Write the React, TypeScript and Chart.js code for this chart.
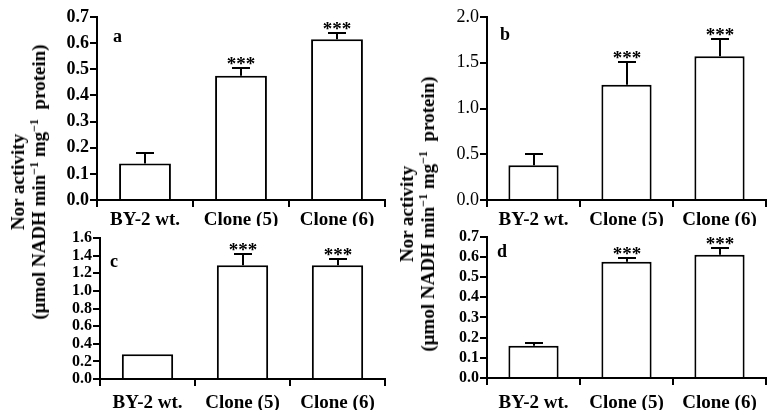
import React, { useEffect, useRef } from "react";
import { Chart, registerables } from "chart.js";

Chart.register(...registerables);

// ---------- data ----------
const categories = ["BY-2 wt.", "Clone (5)", "Clone (6)"];

const valuesA = [0.14, 0.475, 0.615];
const errorsA: (number | null)[] = [0.18, 0.505, 0.64];
const starsA = ["", "***", "***"];

const valuesB = [0.38, 1.26, 1.57];
const errorsB: (number | null)[] = [0.5, 1.51, 1.76];
const starsB = ["", "***", "***"];

const valuesC = [0.28, 1.29, 1.29];
const errorsC: (number | null)[] = [null, 1.415, 1.36];
const starsC = ["", "***", "***"];

const valuesD = [0.16, 0.575, 0.61];
const errorsD: (number | null)[] = [0.172, 0.593, 0.642];
const starsD = ["", "***", "***"];

const yMaxA = 0.7;
const yStepA = 0.1;
const yMaxB = 2.0;
const yStepB = 0.5;
const yMaxC = 1.6;
const yStepC = 0.2;
const yMaxD = 0.7;
const yStepD = 0.1;

const yTitleLine1 = "Nor activity";

const SERIF = '"Liberation Serif", "Times New Roman", serif';

type PanelCfg = {
  letter: string;
  values: number[];
  errors: (number | null)[];
  stars: string[];
  yMax: number;
  yStep: number;
  left: number;
  top: number;
  width: number;
  height: number;
  yAxisWidth: number;
  xAxisHeight: number;
  padTop: number;
  padRight: number;
  yFontSize: number;
  yFontWeight: string;
  xPad: number;
  letterDx: number;
  letterDy: number;
};

function Panel({ cfg }: { cfg: PanelCfg }) {
  const ref = useRef<HTMLCanvasElement>(null);
  useEffect(() => {
    if (!ref.current) return;
    const errPlugin = {
      id: "errbars",
      afterDatasetsDraw(chart: any) {
        const ctx = chart.ctx;
        const meta = chart.getDatasetMeta(0);
        const ys = chart.scales.y;
        ctx.save();
        ctx.strokeStyle = "#000";
        ctx.fillStyle = "#000";
        ctx.lineWidth = 2;
        meta.data.forEach((el: any, i: number) => {
          const x = Math.round(el.x);
          let topY = ys.getPixelForValue(cfg.values[i]);
          const e = cfg.errors[i];
          if (e != null) {
            const yt = Math.round(ys.getPixelForValue(e));
            ctx.beginPath();
            ctx.moveTo(x, topY);
            ctx.lineTo(x, yt);
            ctx.moveTo(x - 9, yt);
            ctx.lineTo(x + 9, yt);
            ctx.stroke();
            topY = yt;
          }
          if (cfg.stars[i]) {
            ctx.font = `bold 19px ${SERIF}`;
            ctx.textAlign = "center";
            ctx.textBaseline = "alphabetic";
            ctx.fillText(cfg.stars[i], x, topY + 2);
          }
        });
        ctx.font = `bold 18px ${SERIF}`;
        ctx.textAlign = "left";
        ctx.textBaseline = "middle";
        ctx.fillText(
          cfg.letter,
          chart.chartArea.left + cfg.letterDx,
          chart.chartArea.top + cfg.letterDy
        );
        ctx.restore();
      },
    };

    const chart = new Chart(ref.current, {
      type: "bar",
      data: {
        labels: categories,
        datasets: [
          {
            data: cfg.values,
            backgroundColor: "#fff",
            borderColor: "#000",
            borderWidth: 2,
            categoryPercentage: 1,
            barPercentage: 0.54,
          },
        ],
      },
      options: {
        responsive: false,
        animation: false,
        devicePixelRatio: 1,
        layout: {
          padding: { top: cfg.padTop, right: cfg.padRight, left: 0, bottom: 0 },
        },
        plugins: {
          legend: { display: false },
          tooltip: { enabled: false },
          title: { display: false },
        },
        scales: {
          x: {
            grid: {
              display: true,
              drawOnChartArea: false,
              drawTicks: true,
              tickLength: 7,
              tickWidth: 2,
              tickColor: "#000",
              color: "#000",
              lineWidth: 2,
              offset: true,
            },
            border: { display: true, color: "#000", width: 2 },
            ticks: {
              color: "#000",
              font: { family: SERIF, size: 19, weight: "bold" },
              padding: cfg.xPad,
              maxRotation: 0,
              autoSkip: false,
            },
            afterFit: (s: any) => {
              s.height = cfg.xAxisHeight;
            },
          },
          y: {
            min: 0,
            max: cfg.yMax,
            grid: {
              display: true,
              drawOnChartArea: false,
              drawTicks: true,
              tickLength: 7,
              tickWidth: 2,
              tickColor: "#000",
              color: "#000",
              lineWidth: 2,
            },
            border: { display: true, color: "#000", width: 2 },
            ticks: {
              stepSize: cfg.yStep,
              autoSkip: false,
              color: "#000",
              padding: 1,
              font: { family: SERIF, size: cfg.yFontSize, weight: cfg.yFontWeight as any },
              callback: (v: any) => Number(v).toFixed(1),
            },
            afterFit: (s: any) => {
              s.width = cfg.yAxisWidth;
            },
          },
        },
      } as any,
      plugins: [errPlugin],
    });
    return () => chart.destroy();
  }, [cfg]);
  return (
    <canvas
      ref={ref}
      width={cfg.width}
      height={cfg.height}
      style={{
        position: "absolute",
        left: cfg.left,
        top: cfg.top,
        width: cfg.width,
        height: cfg.height,
        display: "block",
      }}
    />
  );
}

const panels: PanelCfg[] = [
  {
    letter: "a", values: valuesA, errors: errorsA, stars: starsA, yMax: yMaxA, yStep: yStepA,
    left: 40, top: 0, width: 350, height: 226, yAxisWidth: 57, xAxisHeight: 26,
    padTop: 17, padRight: 5, yFontSize: 18, yFontWeight: "bold", xPad: 2, letterDx: 16, letterDy: 20,
  },
  {
    letter: "b", values: valuesB, errors: errorsB, stars: starsB, yMax: yMaxB, yStep: yStepB,
    left: 430, top: 0, width: 337, height: 226, yAxisWidth: 57, xAxisHeight: 26,
    padTop: 17, padRight: 1, yFontSize: 18, yFontWeight: "normal", xPad: 2, letterDx: 13, letterDy: 18,
  },
  {
    letter: "c", values: valuesC, errors: errorsC, stars: starsC, yMax: yMaxC, yStep: yStepC,
    left: 40, top: 226, width: 350, height: 184, yAxisWidth: 60, xAxisHeight: 31,
    padTop: 12, padRight: 5, yFontSize: 16, yFontWeight: "bold", xPad: 6, letterDx: 10, letterDy: 24,
  },
  {
    letter: "d", values: valuesD, errors: errorsD, stars: starsD, yMax: yMaxD, yStep: yStepD,
    left: 430, top: 226, width: 337, height: 184, yAxisWidth: 57, xAxisHeight: 32,
    padTop: 10, padRight: 1, yFontSize: 16, yFontWeight: "bold", xPad: 7, letterDx: 10, letterDy: 16,
  },
];

function YTitle({ x, y }: { x: number; y: number }) {
  const sup: React.CSSProperties = { fontSize: 12, lineHeight: 0, verticalAlign: "super" };
  return (
    <div
      style={{
        position: "absolute",
        left: x,
        top: y,
        transform: "translate(-50%, -50%) rotate(-90deg)",
        whiteSpace: "nowrap",
        textAlign: "center",
        fontFamily: SERIF,
        fontWeight: "bold",
        fontSize: 19,
        lineHeight: "21px",
        color: "#000",
      }}
    >
      <div>{yTitleLine1}</div>
      <div>
        (μmol NADH min<span style={sup}>−1</span> mg<span style={sup}>−1</span>&nbsp; protein)
      </div>
    </div>
  );
}

export default function App() {
  return (
    <div
      style={{
        position: "absolute",
        left: 0,
        top: 0,
        width: 767,
        height: 410,
        background: "#fff",
        overflow: "hidden",
      }}
    >
      {panels.map((p) => (
        <Panel key={p.letter} cfg={p} />
      ))}
      <YTitle x={28} y={182} />
      <YTitle x={417} y={214} />
    </div>
  );
}
